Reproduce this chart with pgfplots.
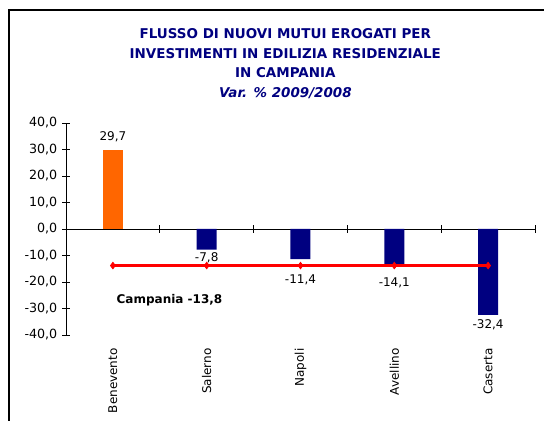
\documentclass[border=0pt]{standalone}
\usepackage{pgfplots}
\pgfplotsset{compat=1.18}
\usepackage{fontspec}
\setmainfont{DejaVu Sans}
\definecolor{navyb}{HTML}{000080}
\definecolor{orng}{HTML}{FF6600}
\begin{document}
\begin{tikzpicture}
\path[use as bounding box] (0,0) rectangle (408pt,315.75pt);
\draw[line width=1pt] (6.75pt,-1pt) -- (6.75pt,308.25pt) -- (409pt,308.25pt);
\node[align=center, text=navyb, font=\fontsize{10.1}{14.6}\selectfont\bfseries] at (214pt,268pt)
 {FLUSSO DI NUOVI MUTUI EROGATI PER\\INVESTIMENTI IN EDILIZIA RESIDENZIALE\\IN CAMPANIA\\\itshape Var. \% 2009/2008};
\begin{axis}[at={(49.5pt,64.5pt)}, anchor=south west, scale only axis,
 width=351.75pt, height=159pt,
 xmin=-0.5, xmax=4.5, ymin=-40, ymax=40,
 axis y line=left, axis x line=middle,
 x axis line style={-}, y axis line style={-},
 hide obscured x ticks=false, hide obscured y ticks=false,
 xtick={-0.5,0.5,1.5,2.5,3.5,4.5}, xticklabels={},
 extra x ticks={0,1,2,3,4},
 extra x tick labels={Benevento,Salerno,Napoli,Avellino,Caserta},
 extra x tick style={major tick length=0pt, xticklabel style={yshift=-86pt, rotate=90, anchor=east}},
 ytick={-40,-30,...,40},
 tick align=center, major tick length=6pt,
 tick style={black, line width=0.6pt},
 axis line style={black, line width=0.6pt},
 tick label style={font=\fontsize{9}{11}\selectfont},
 yticklabel style={font=\fontsize{9.5}{11}\selectfont, /pgf/number format/.cd, fixed, fixed zerofill, precision=1, use comma, assume math mode=true},
 clip=false,
]
\addplot[ybar, bar width=15pt, bar shift=0pt, fill=orng, draw=none,
 visualization depends on={\thisrow{off} \as \off},
 nodes near coords={\pgfmathprintnumber[fixed,fixed zerofill,precision=1,use comma,assume math mode=true]{\pgfplotspointmeta}},
 every node near coord/.append style={font=\fontsize{9}{11}\selectfont, anchor=center, yshift=\off pt}]
 table[row sep=\\] {x y off\\ 0 29.7 10.5\\};
\addplot[ybar, bar width=15pt, bar shift=0pt, fill=navyb, draw=none,
 visualization depends on={\thisrow{off} \as \off},
 nodes near coords={\pgfmathprintnumber[fixed,fixed zerofill,precision=1,use comma,assume math mode=true]{\pgfplotspointmeta}},
 every node near coord/.append style={font=\fontsize{9}{11}\selectfont, anchor=center, yshift=\off pt}]
 table[row sep=\\] {x y off\\ 1 -7.8 -6\\ 2 -11.4 -15.75\\ 3 -14.1 -12.5\\ 4 -32.4 -7.5\\};
\addplot[red, line width=2.6pt, mark=diamond*, mark size=2.5pt, mark options={solid, line width=0.5pt}]
 table[row sep=\\] {x y\\ 0 -13.8\\ 1 -13.8\\ 2 -13.8\\ 3 -13.8\\ 4 -13.8\\};
\node[font=\bfseries\fontsize{9}{10}\selectfont] at (axis cs:0.603,-26.8) {Campania -13,8};
\end{axis}
\end{tikzpicture}
\end{document}
